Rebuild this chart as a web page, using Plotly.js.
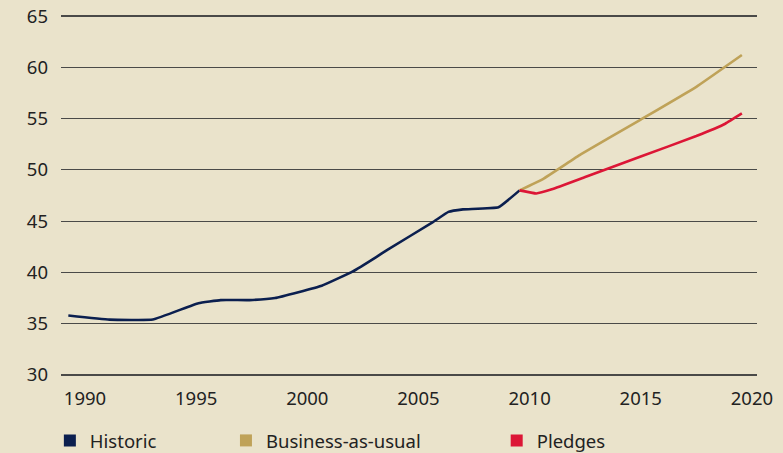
<!DOCTYPE html>
<html><head><meta charset="utf-8">
<script src="https://cdn.plot.ly/plotly-3.0.1.min.js"></script>
<style>html,body{margin:0;padding:0;background:#EAE3CB;}</style>
</head><body>
<div id="chart" style="width:783px;height:453px;"></div>
<script>
const historicYears = [1989.25, 1991.1, 1993.05, 1995.1, 1996.1, 1997.4, 1998.55, 2000.65, 2002.05, 2003.1, 2003.6, 2005.65, 2006.35, 2007.0, 2008.6, 2009.55];
const historicValues = [35.8, 35.4, 35.4, 37.0, 37.3, 37.3, 37.5, 38.7, 40.1, 41.5, 42.2, 44.9, 45.9, 46.15, 46.35, 48.0];
const bauYears = [2009.55, 2010.6, 2012.3, 2015.0, 2017.5, 2019.55];
const bauValues = [48.0, 49.1, 51.5, 54.9, 58.1, 61.2];
const pledgeYears = [2009.55, 2010.3, 2011.0, 2012.5, 2015.0, 2017.5, 2018.8, 2019.55];
const pledgeValues = [48.0, 47.7, 48.1, 49.3, 51.3, 53.3, 54.5, 55.5];
const seriesNames = ['Historic', 'Business-as-usual', 'Pledges'];
const seriesColors = ['#0B1F4F', '#BFA258', '#DC1636'];
const xTicks = [1990, 1995, 2000, 2005, 2010, 2015, 2020];
const yTicks = [30, 35, 40, 45, 50, 55, 60, 65];

const font = "'Noto Sans', 'Open Sans', sans-serif";
const xs = [historicYears, bauYears, pledgeYears];
const ys = [historicValues, bauValues, pledgeValues];
const legendIds = ['legend', 'legend2', 'legend3'];
const traces = [];
for (let i = 0; i < 3; i++) {
  traces.push({x: xs[i], y: ys[i], type: 'scatter', mode: 'lines', showlegend: false,
    line: {color: seriesColors[i], width: 2.6, shape: 'spline', smoothing: 0.3}, hoverinfo: 'skip'});
}
for (let i = 0; i < 3; i++) {
  traces.push({x: [null], y: [null], type: 'scatter', mode: 'markers', name: seriesNames[i],
    legend: legendIds[i], marker: {symbol: 'square', size: 14, color: seriesColors[i]}});
}
const legBase = {orientation: 'h', yanchor: 'middle', y: -0.176, xanchor: 'left', bgcolor: 'rgba(0,0,0,0)',
  font: {family: font, size: 18.5, color: '#222'}, itemsizing: 'constant'};
const layout = {
  width: 783, height: 453,
  margin: {l: 61, r: 26, t: 14, b: 76, autoexpand: false},
  paper_bgcolor: '#EAE3CB', plot_bgcolor: '#EAE3CB',
  font: {family: font, size: 18.5, color: '#222'},
  xaxis: {range: [1988.92, 2020.23], tickvals: xTicks, ticktext: xTicks.map(String), showgrid: false,
    zeroline: false, showline: false, ticks: '', ticklabelstandoff: 8, fixedrange: true},
  yaxis: {range: [29.8, 65.2], tickvals: yTicks, ticktext: yTicks.map(String), showgrid: true,
    gridcolor: '#4a4a48', gridwidth: 1.2, zeroline: false, showline: false, ticks: '', ticklabelstandoff: 12, fixedrange: true},
  legend: Object.assign({}, legBase, {x: -0.016}),
  legend2: Object.assign({}, legBase, {x: 0.237}),
  legend3: Object.assign({}, legBase, {x: 0.626}),
  showlegend: true
};
Plotly.newPlot('chart', traces, layout, {displayModeBar: false, staticPlot: true});
</script>
</body></html>
